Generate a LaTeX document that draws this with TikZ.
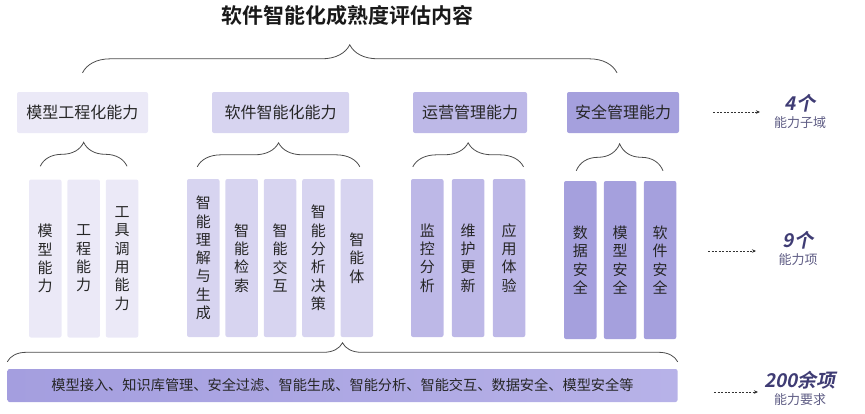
\documentclass[tikz,border=0pt]{standalone}
\usepackage{fontspec}
\setmainfont{Noto Sans CJK SC}
\newfontfamily\titlefont{Noto Sans CJK SC Bold}
\newfontfamily\numfont{Noto Sans CJK SC Bold}[FakeSlant=0.2]
\usetikzlibrary{positioning,calc,decorations.pathreplacing,arrows.meta}

\definecolor{lvA}{HTML}{EBE9F7}
\definecolor{lvB}{HTML}{D7D4F0}
\definecolor{lvC}{HTML}{BDB8E7}
\definecolor{lvD}{HTML}{A5A0DD}
\definecolor{barL}{HTML}{A49EDF}
\definecolor{barM}{HTML}{8D86D4}
\definecolor{barR}{HTML}{B7B2E8}
\definecolor{numc}{HTML}{3F3C74}
\definecolor{subc}{HTML}{5E5C84}

\tikzset{
  hdbox/.style={rounded corners=2pt, minimum height=41pt, inner sep=0pt, text=black!85, font=\fontsize{16}{16}\selectfont},
  colbox/.style={rounded corners=2pt, minimum width=32.5pt, minimum height=158pt, inner sep=0pt, align=center, text=black!85, font=\fontsize{15}{18.3}\selectfont},
  grpbrace/.style={decorate, decoration={brace, amplitude=#1}, draw=black!70, line width=0.8pt},
  dotarrow/.style={-{Stealth[length=4pt,width=3.5pt]}, dash pattern=on 2pt off 1.5pt, line width=0.7pt, draw=black!80},
  cntlabel/.style={text=numc, inner sep=0pt, font=\numfont\fontsize{19}{19}\selectfont},
  sublabel/.style={text=subc, inner sep=0pt, font=\fontsize{13}{13}\selectfont},
}

\begin{document}
\begin{tikzpicture}[x=1pt, y=-1pt]
    \useasboundingbox (0,0) rectangle (865,413);

    % Title
    \node [font=\titlefont\fontsize{21}{21}\selectfont, text=black!90] (title) at (347,16) {软件智能化成熟度评估内容};

    % Sub-domains
    \node [hdbox, fill=lvA, minimum width=131pt] (hd1) at (82.5,112.5) {模型工程化能力};
    \node [hdbox, fill=lvB, minimum width=137pt] (hd2) at (280.5,112.5) {软件智能化能力};
    \node [hdbox, fill=lvC, minimum width=114pt] (hd3) at (470,112.5) {运营管理能力};
    \node [hdbox, fill=lvD, minimum width=112pt] (hd4) at (623,112.5) {安全管理能力};
    \draw [grpbrace=28pt] ([yshift=19pt]hd1.north) -- ([xshift=-6pt, yshift=19pt]hd4.north);

    % Model engineering
    \node [colbox, fill=lvA] (m1) at (45.25,258.5) {模\\型\\能\\力};
    \node [colbox, fill=lvA, right=5.5pt of m1] (m2) {工\\程\\能\\力};
    \node [colbox, fill=lvA, right=5.5pt of m2] (m3) {工\\具\\调\\用\\能\\力};
    \draw [grpbrace=24pt] ([xshift=-5pt, yshift=13pt]m1.north) -- ([xshift=5pt, yshift=13pt]m3.north);

    % Software intelligence
    \node [colbox, fill=lvB] (s1) at (203.25,258) {智\\能\\理\\解\\与\\生\\成};
    \node [colbox, fill=lvB, right=5.5pt of s1] (s2) {智\\能\\检\\索};
    \node [colbox, fill=lvB, right=5.5pt of s2] (s3) {智\\能\\交\\互};
    \node [colbox, fill=lvB, right=5.5pt of s3] (s4) {智\\能\\分\\析\\决\\策};
    \node [colbox, fill=lvB, right=5.5pt of s4] (s5) {智\\能\\体};
    \draw [grpbrace=24pt] ([xshift=-6pt, yshift=12pt]s1.north) -- ([xshift=3pt, yshift=12pt]s5.north);

    % Operations
    \node [colbox, fill=lvC] (o1) at (427.25,258) {监\\控\\分\\析};
    \node [colbox, fill=lvC, right=8pt of o1] (o2) {维\\护\\更\\新};
    \node [colbox, fill=lvC, right=8pt of o2] (o3) {应\\用\\体\\验};
    \draw [grpbrace=24pt] ([xshift=2pt, yshift=12pt]o1.north west) -- ([xshift=-2pt, yshift=12pt]o3.north east);

    % Security
    \node [colbox, fill=lvD] (c1) at (580.25,260) {数\\据\\安\\全};
    \node [colbox, fill=lvD, right=7pt of c1] (c2) {模\\型\\安\\全};
    \node [colbox, fill=lvD, right=7pt of c2] (c3) {软\\件\\安\\全};
    \draw [grpbrace=27pt] ([xshift=-4pt, yshift=10pt]c1.north) -- ([xshift=3pt, yshift=10pt]c3.north);

    % Requirements bar
    \node [rounded corners=2pt, minimum width=670pt, minimum height=33pt, inner sep=0pt,
           left color=barL, middle color=barM, right color=barR,
           text=black!85, font=\fontsize{14.2}{14.2}\selectfont] (bar) at (342.5,385.5)
          {模型接入、知识库管理、安全过滤、智能生成、智能分析、智能交互、数据安全、模型安全等};
    \draw [grpbrace=19pt] ([yshift=7pt]bar.north west) -- ([yshift=7pt]bar.north east);

    % Counts
    \coordinate (a1s) at (713,112);
    \coordinate (a1e) at (760,112);
    \draw [dotarrow] (a1s) -- (a1e);
    \node [cntlabel] (n1) at (800,103) {4个};
    \node [sublabel, below=4pt of n1] (t1) {能力子域};

    \coordinate (a2s) at (708,251);
    \coordinate (a2e) at (756,251);
    \draw [dotarrow] (a2s) -- (a2e);
    \node [cntlabel] (n2) at (798,240) {9个};
    \node [sublabel, below=4pt of n2] (t2) {能力项};

    \coordinate (a3s) at (714,392);
    \coordinate (a3e) at (758,392);
    \draw [dotarrow] (a3s) -- (a3e);
    \node [cntlabel] (n3) at (800,380) {200余项};
    \node [sublabel, below=4pt of n3] (t3) {能力要求};
\end{tikzpicture}
\end{document}
